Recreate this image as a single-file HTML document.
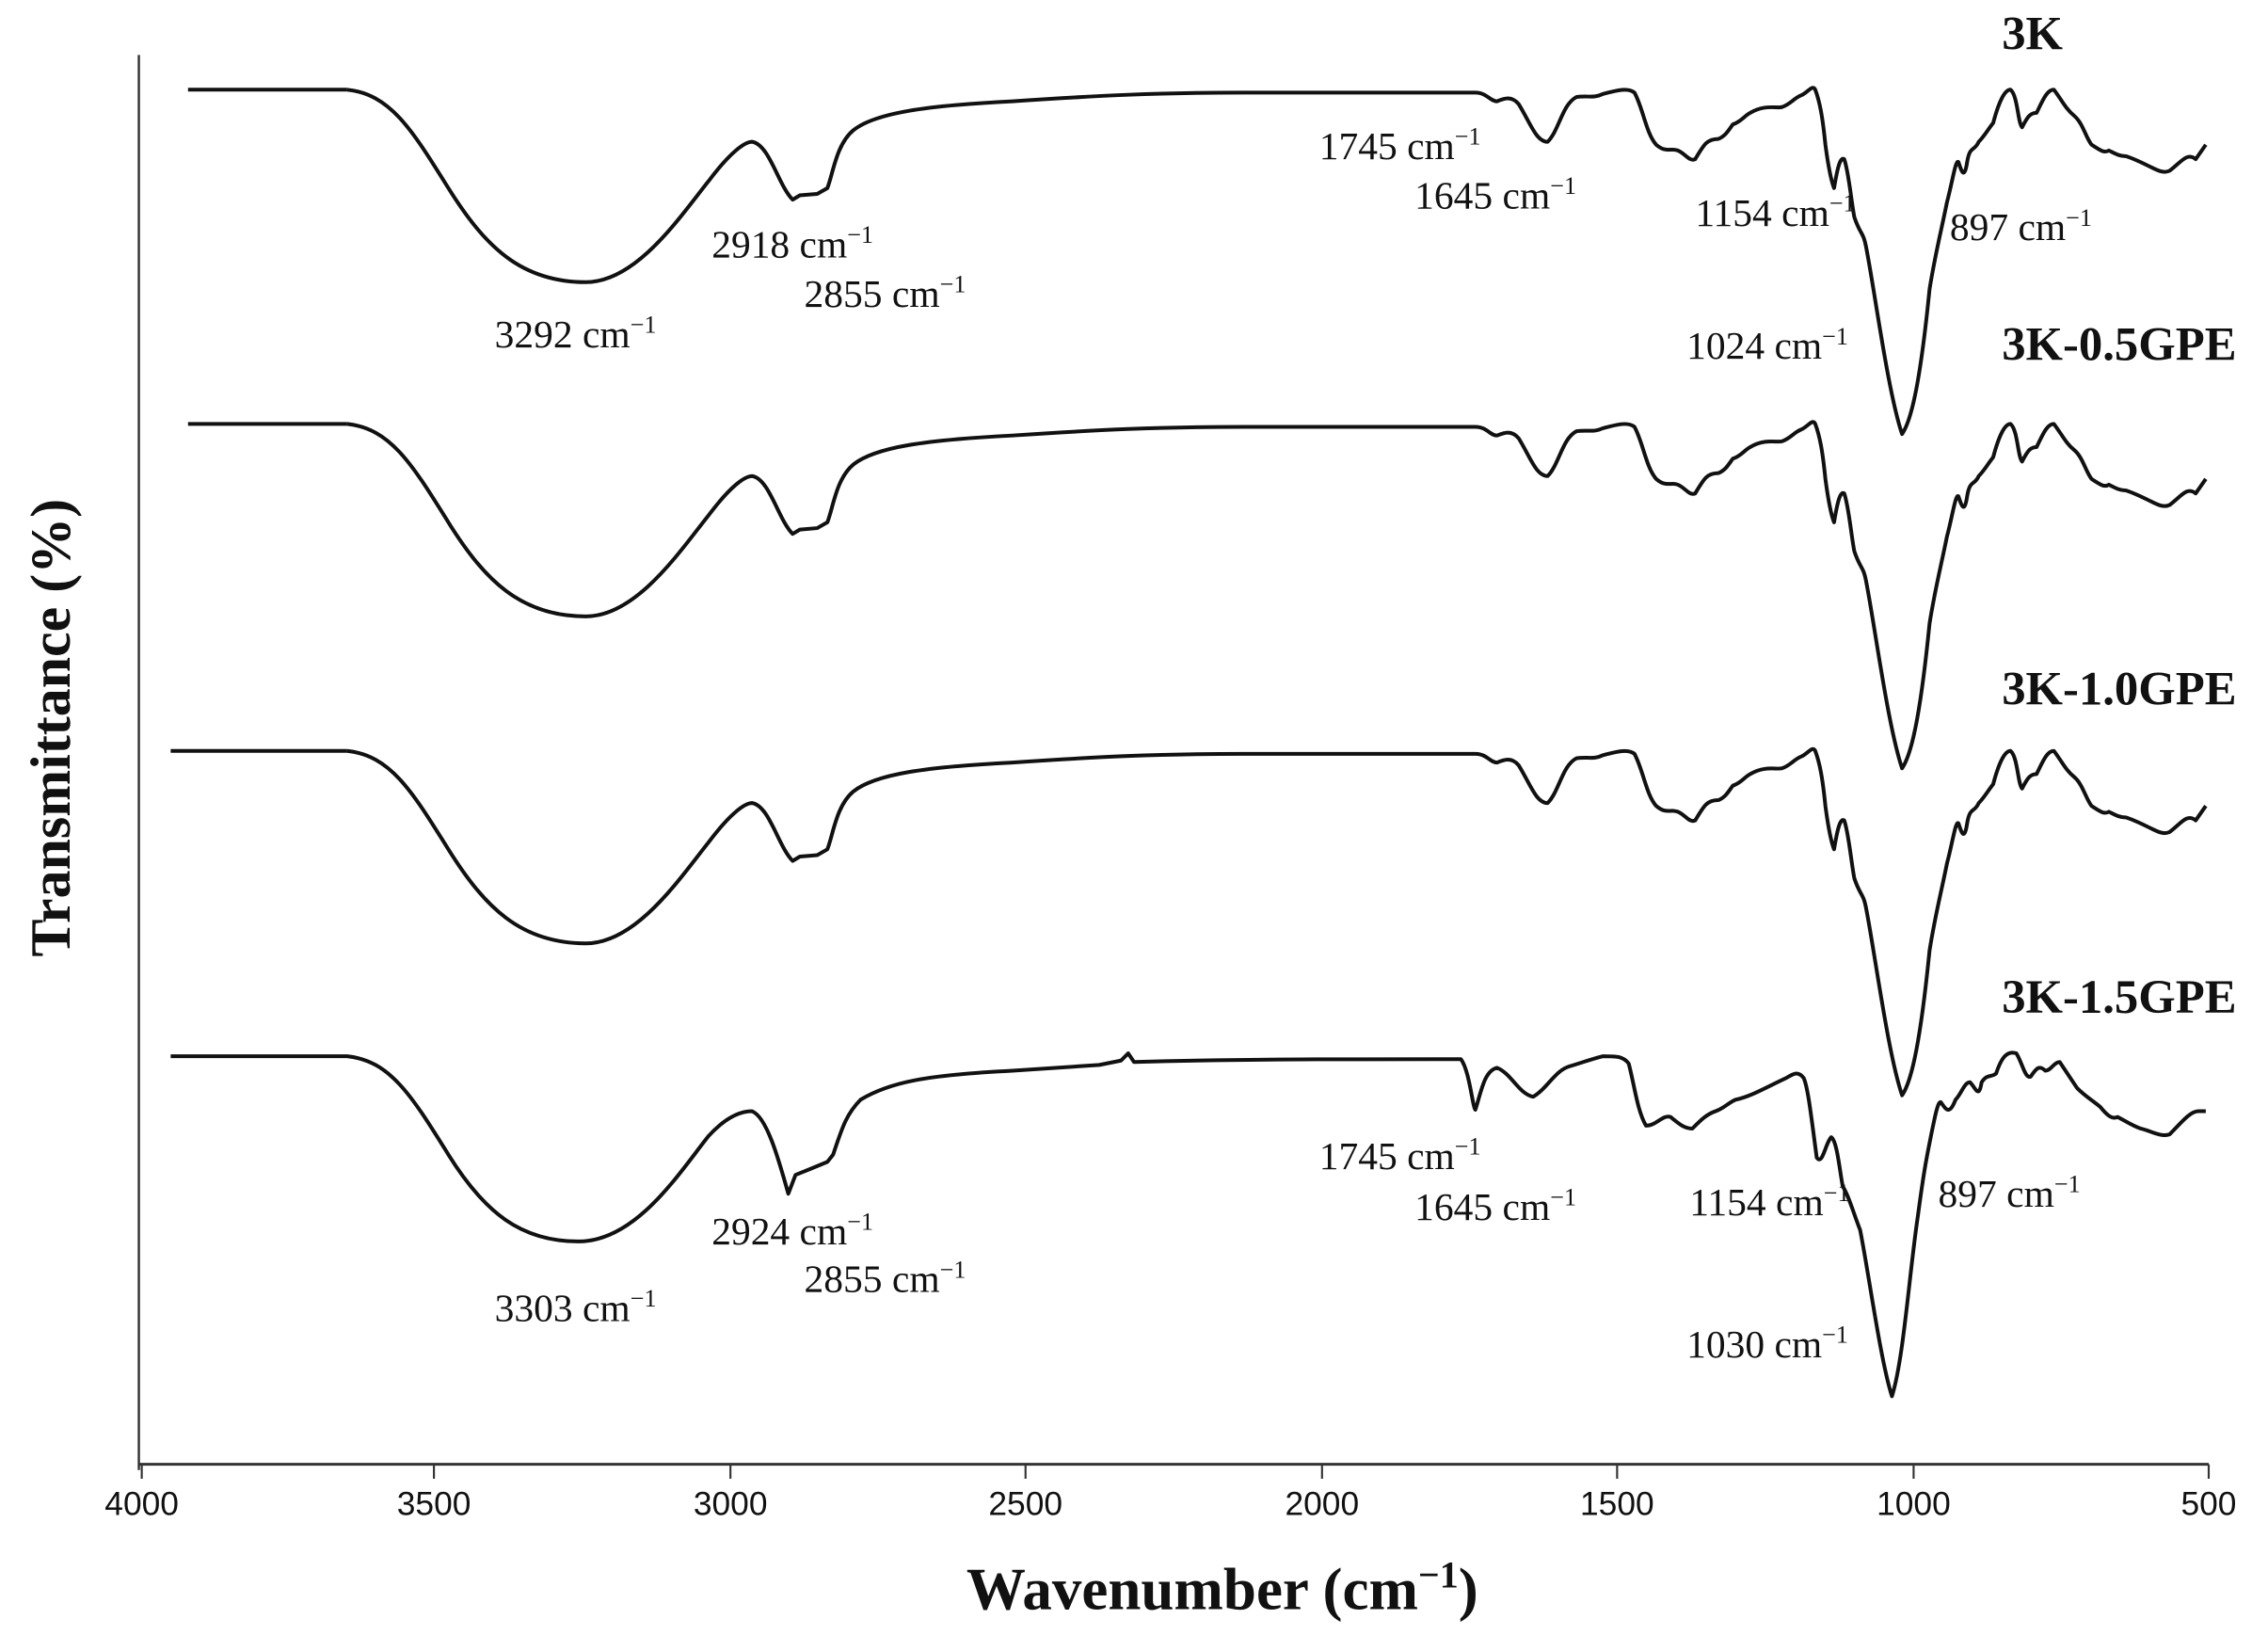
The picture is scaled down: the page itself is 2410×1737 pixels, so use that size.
<!DOCTYPE html>
<html><head><meta charset="utf-8"><style>
html,body{margin:0;padding:0;background:#fff;}
svg{display:block;}
.t{font-family:"Liberation Serif",serif;font-size:27px;fill:#111;}
.s{font-family:"Liberation Serif",serif;font-size:33px;font-weight:bold;fill:#111;}
.k{font-family:"Liberation Sans Narrow","Liberation Sans",sans-serif;font-size:23px;fill:#111;}
.c{fill:none;stroke:#111;stroke-width:2.6;stroke-linejoin:round;}
</style></head><body>
<svg width="2410" height="1737" viewBox="0 0 1568 1130" preserveAspectRatio="none" xmlns="http://www.w3.org/2000/svg">
<defs>
<path id="cv" d="M240,62 C270,65 285,90 310,130 C335,170 360,195 405,195 C440,195 470,150 490,125 C505,105 515,98 520,98 C532,100 538,128 548,138 L553,135 L565,134 L572,130 C576,120 578,100 590,90 C605,78 640,73 700,70 C760,66 800,64 860,64 L1020,64 C1028,64 1030,70 1035,70 C1040,68 1045,66 1050,72 C1058,85 1062,98 1070,98 C1078,90 1080,72 1090,67 C1098,66 1102,68 1108,65 C1116,63 1125,60 1130,64 C1136,75 1138,92 1145,100 C1152,106 1155,102 1160,104 C1165,106 1168,112 1172,110 C1178,100 1180,96 1188,96 C1193,94 1195,90 1198,86 C1204,84 1206,80 1210,78 C1220,72 1228,75 1232,74 C1238,72 1240,68 1245,66 C1250,64 1253,58 1255,62 C1258,70 1260,80 1262,100 C1264,115 1266,125 1268,130 C1270,118 1272,108 1275,110 C1278,118 1280,140 1282,150 C1286,162 1288,160 1290,170 C1296,200 1305,270 1315,300 C1322,290 1328,260 1334,200 C1338,175 1342,160 1346,140 C1350,125 1352,110 1354,112 C1356,118 1358,125 1360,112 C1362,100 1365,105 1368,98 C1372,94 1374,90 1378,85 C1382,70 1386,62 1390,62 C1395,66 1395,85 1398,88 C1402,80 1404,78 1408,78 C1412,70 1415,62 1420,62 C1426,70 1428,75 1434,80 C1440,85 1442,95 1446,100 C1452,104 1455,106 1458,104 C1462,106 1465,108 1470,108 C1476,110 1480,112 1486,115 C1492,118 1496,120 1500,118 C1508,112 1512,105 1518,110 L1525,100"/>
</defs>
<line x1="96" y1="38" x2="96" y2="1016" stroke="#333" stroke-width="1.6"/>
<line x1="96" y1="1012" x2="1527" y2="1012" stroke="#333" stroke-width="2"/>
<g stroke="#333" stroke-width="1.4">
<line x1="98" y1="1012" x2="98" y2="1022"/><line x1="300" y1="1012" x2="300" y2="1022"/><line x1="505" y1="1012" x2="505" y2="1022"/><line x1="709" y1="1012" x2="709" y2="1022"/><line x1="914" y1="1012" x2="914" y2="1022"/><line x1="1118" y1="1012" x2="1118" y2="1022"/><line x1="1323" y1="1012" x2="1323" y2="1022"/><line x1="1527" y1="1012" x2="1527" y2="1022"/>
</g>
<g class="k" text-anchor="middle">
<text x="98" y="1047">4000</text><text x="300" y="1047">3500</text><text x="505" y="1047">3000</text><text x="709" y="1047">2500</text><text x="914" y="1047">2000</text><text x="1118" y="1047">1500</text><text x="1323" y="1047">1000</text><text x="1527" y="1047">500</text>
</g>
<text x="845" y="1112" text-anchor="middle" font-family="Liberation Serif,serif" font-weight="bold" font-size="41" fill="#111">Wavenumber (cm<tspan font-size="26" dy="-15">−1</tspan><tspan dy="15">)</tspan></text>
<text transform="translate(48,503) rotate(-90)" text-anchor="middle" font-family="Liberation Serif,serif" font-weight="bold" font-size="39" fill="#111">Transmittance (%)</text>
<path class="c" d="M130,62 L240,62"/>
<use href="#cv" class="c"/>
<path class="c" d="M130,293 L240,293"/>
<use href="#cv" class="c" transform="translate(0,231)"/>
<path class="c" d="M118,519 L240,519"/>
<use href="#cv" class="c" transform="translate(0,457)"/>
<path class="c" d="M118,730 L240,730 C270,733 285,758 310,798 C335,838 360,858 400,858 C440,858 470,810 490,785 C502,772 512,768 520,768 C530,772 538,800 545,825 L550,812 L560,808 L572,803 L576,798 C582,780 585,770 595,760 C615,748 640,743 700,740 L760,736 L775,733 L780,728 L784,734 C860,732 900,732 1010,732 C1016,740 1018,765 1020,767 C1024,755 1026,740 1035,738 C1045,742 1050,756 1060,758 C1070,752 1075,740 1085,737 C1095,734 1100,732 1108,730 C1118,730 1122,730 1126,735 C1130,750 1132,768 1138,778 C1145,778 1150,770 1155,772 C1160,776 1164,780 1170,780 C1176,774 1180,770 1186,768 C1192,766 1195,762 1200,760 C1210,758 1220,752 1235,745 C1240,742 1243,740 1247,745 C1250,752 1252,770 1256,800 C1260,806 1262,790 1266,786 C1270,788 1272,810 1274,820 C1278,826 1282,840 1286,850 C1292,880 1300,940 1308,965 C1316,940 1320,880 1326,840 C1330,810 1332,800 1334,790 C1338,770 1340,760 1342,762 C1346,768 1348,770 1352,760 C1356,756 1358,748 1362,748 C1366,752 1368,760 1370,748 C1374,742 1376,745 1380,742 C1384,730 1388,726 1394,728 C1398,734 1400,746 1404,744 C1408,738 1410,736 1414,740 C1418,740 1420,734 1424,734 C1428,740 1432,746 1436,752 C1442,758 1446,760 1452,765 C1456,770 1460,774 1464,772 C1470,775 1474,778 1480,780 C1488,782 1494,786 1500,784 C1508,776 1514,768 1520,768 L1525,768"/>
<g class="s">
<text x="1384" y="34">3K</text>
<text x="1384" y="249">3K-0.5GPE</text>
<text x="1384" y="487">3K-1.0GPE</text>
<text x="1384" y="700">3K-1.5GPE</text>
</g>
<g class="t">
<text x="342" y="240">3292 cm<tspan font-size="17" dy="-10">−1</tspan></text>
<text x="492" y="178">2918 cm<tspan font-size="17" dy="-10">−1</tspan></text>
<text x="556" y="212">2855 cm<tspan font-size="17" dy="-10">−1</tspan></text>
<text x="912" y="110">1745 cm<tspan font-size="17" dy="-10">−1</tspan></text>
<text x="978" y="144">1645 cm<tspan font-size="17" dy="-10">−1</tspan></text>
<text x="1172" y="156">1154 cm<tspan font-size="17" dy="-10">−1</tspan></text>
<text x="1348" y="166">897 cm<tspan font-size="17" dy="-10">−1</tspan></text>
<text x="1166" y="248">1024 cm<tspan font-size="17" dy="-10">−1</tspan></text>
<text x="342" y="913">3303 cm<tspan font-size="17" dy="-10">−1</tspan></text>
<text x="492" y="860">2924 cm<tspan font-size="17" dy="-10">−1</tspan></text>
<text x="556" y="893">2855 cm<tspan font-size="17" dy="-10">−1</tspan></text>
<text x="912" y="808">1745 cm<tspan font-size="17" dy="-10">−1</tspan></text>
<text x="978" y="843">1645 cm<tspan font-size="17" dy="-10">−1</tspan></text>
<text x="1168" y="840">1154 cm<tspan font-size="17" dy="-10">−1</tspan></text>
<text x="1340" y="834">897 cm<tspan font-size="17" dy="-10">−1</tspan></text>
<text x="1166" y="938">1030 cm<tspan font-size="17" dy="-10">−1</tspan></text>
</g>
</svg>
</body></html>
